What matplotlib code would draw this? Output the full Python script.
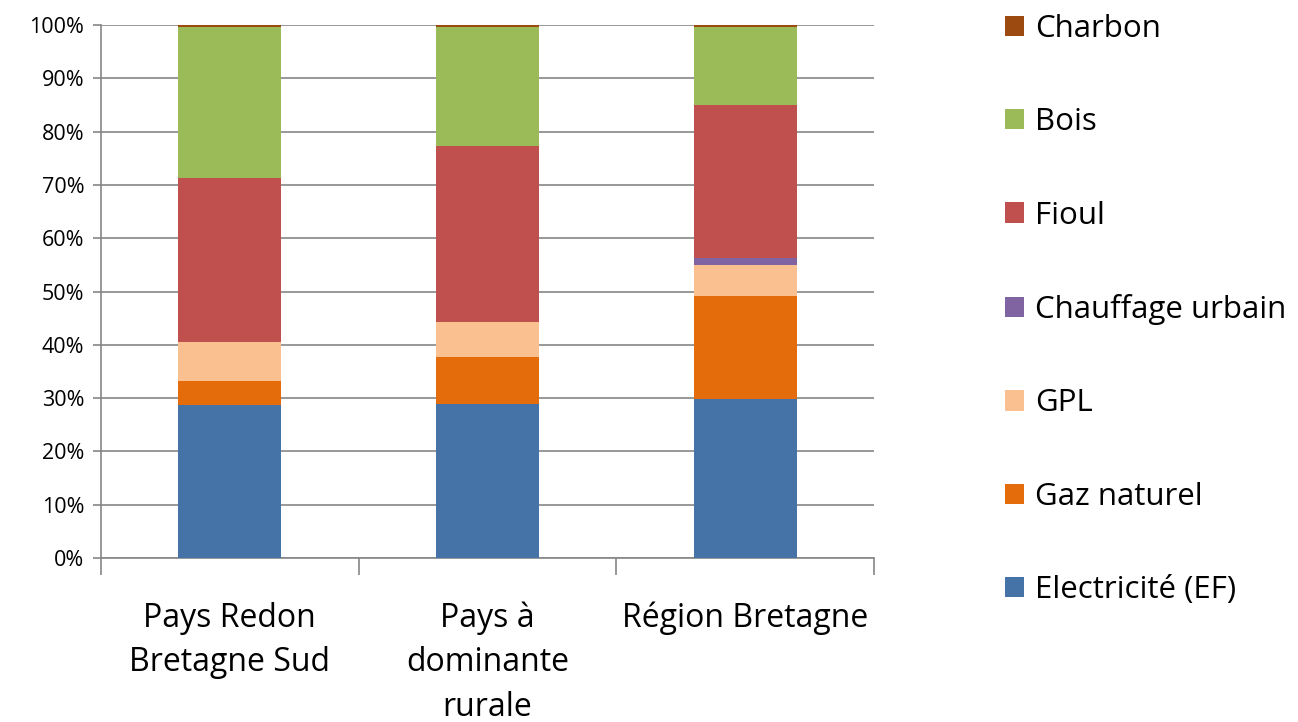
import matplotlib
matplotlib.use("Agg")
import matplotlib.pyplot as plt
from matplotlib.patches import Patch

plt.rcParams['font.family'] = ['Open Sans', 'DejaVu Sans']

categories = ["Pays Redon\nBretagne Sud", "Pays à\ndominante\nrurale", "Région Bretagne"]
series_names = ["Electricité (EF)", "Gaz naturel", "GPL", "Chauffage urbain", "Fioul", "Bois", "Charbon"]
electricite = [28.7, 28.9, 29.8]
gaz_naturel = [4.5, 8.8, 19.4]
gpl = [7.3, 6.6, 5.8]
chauffage_urbain = [0.0, 0.0, 1.3]
fioul = [30.8, 33.0, 28.7]
bois = [28.3, 22.3, 14.6]
charbon = [0.4, 0.4, 0.4]
series_values = [electricite, gaz_naturel, gpl, chauffage_urbain, fioul, bois, charbon]
colors = ["#4572A7", "#E46C0A", "#FAC090", "#8064A2", "#C0504D", "#9BBB59", "#9C4A10"]
ytick_labels = [f"{v}%" for v in range(0, 101, 10)]

fig = plt.figure(figsize=(12.98, 7.22), dpi=100)
ax = fig.add_axes([101/1298, 1-558/722, (874-101)/1298, (558-25)/722])

x = list(range(len(categories)))
bottom = [0.0]*len(categories)
handles = []
for name, vals, c in zip(series_names, series_values, colors):
    ax.bar(x, vals, width=0.4, bottom=bottom, color=c, edgecolor='none', zorder=3)
    bottom = [b+v for b, v in zip(bottom, vals)]
    handles.append(Patch(facecolor=c, edgecolor='none', label=name))

ax.set_xlim(-0.5, 2.5)
ax.set_ylim(0, 100)
ax.set_yticks(range(0, 101, 10))
ax.set_yticklabels(ytick_labels, fontsize=15.5)
ax.yaxis.grid(True, color="#868686", linewidth=1.2, zorder=0)
ax.set_axisbelow(True)
for s in ['top', 'right']:
    ax.spines[s].set_visible(False)
for s in ['left', 'bottom']:
    ax.spines[s].set_color("#868686")
    ax.spines[s].set_linewidth(1.2)
ax.tick_params(axis='y', length=6, width=1.2, color="#868686", pad=6)
ax.set_xticks([-0.5, 0.5, 1.5, 2.5])
ax.set_xticklabels([])
ax.tick_params(axis='x', length=12, width=1.2, color="#868686")
for i, lab in enumerate(categories):
    ax.text(i, -8.2, lab, ha='center', va='top', fontsize=23, linespacing=1.45,
            transform=ax.transData, clip_on=False)

leg = fig.legend(handles=handles[::-1], loc='upper left', bbox_to_anchor=(989/1298, 1+2/722),
                 frameon=False, fontsize=22.5, labelspacing=2.03, handlelength=0.62,
                 handleheight=0.62, handletextpad=0.35, borderpad=0)

fig.savefig("out.png", dpi=100)
